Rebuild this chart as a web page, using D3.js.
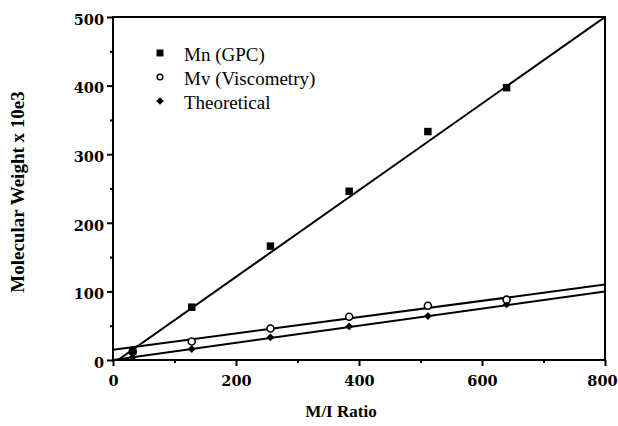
<!DOCTYPE html>
<html>
<head>
<meta charset="utf-8">
<script src="https://cdn.jsdelivr.net/npm/d3@7"></script>
<style>
  body { margin: 0; background: #fff; }
  .tick text { font-family: "DejaVu Serif", serif; font-weight: bold; font-size: 14.5px; fill: #000; }
  .tick line { stroke: #000; stroke-width: 2; }
</style>
</head>
<body>
<script>
// data
var ratio = [32, 128, 256, 384, 512, 640];          // M/I ratio
var mnGPC = [13, 77, 166, 246, 333, 397];           // Mn (GPC)
var mvVisc = [12, 27, 46, 63, 79, 88];              // Mv (Viscometry)
var theory = [4, 16, 33, 49, 64, 81];               // Theoretical
// fitted lines, end points
var mnFit = [[8, 0], [800, 500]];
var mvFit = [[0, 15], [800, 110]];
var theoryFit = [[0, 0], [800, 100]];
var xMajor = [0, 200, 400, 600, 800], xMinor = [100, 300, 500, 700];
var yMajor = [0, 100, 200, 300, 400, 500], yMinor = [50, 150, 250, 350, 450];
var legendNames = ["Mn (GPC)", "Mv (Viscometry)", "Theoretical"];

var w = 618, h = 426;
var svg = d3.select("body").append("svg")
    .attr("width", w)
    .attr("height", h);

var x = d3.scaleLinear().domain([0, 800]).range([113, 605]);
var y = d3.scaleLinear().domain([0, 500]).range([360, 17]);

// clip so lines stay in the frame
svg.append("clipPath").attr("id", "plot")
    .append("rect")
    .attr("x", x(0)).attr("y", y(500))
    .attr("width", x(800) - x(0)).attr("height", y(0) - y(500));

// axes: major + minor ticks
function drawAxis(gen, tr) {
    var g = svg.append("g").attr("transform", tr).call(gen);
    g.select(".domain").remove();
    return g;
}
drawAxis(d3.axisBottom(x).tickValues(xMajor).tickSize(6).tickPadding(10).tickFormat(d3.format("d")),
    "translate(0," + y(0) + ")")
    .selectAll("text").attr("dx", function(d){ return d === 800 ? "-3" : "0"; });
drawAxis(d3.axisBottom(x).tickValues(xMinor).tickSize(3).tickFormat(""),
    "translate(0," + y(0) + ")");
drawAxis(d3.axisLeft(y).tickValues(yMajor).tickSize(6).tickPadding(3).tickFormat(d3.format("d")),
    "translate(" + x(0) + ",0)")
    .selectAll("text").attr("dy", "0.5em");
drawAxis(d3.axisLeft(y).tickValues(yMinor).tickSize(3).tickFormat(""),
    "translate(" + x(0) + ",0)");

// frame
svg.append("rect")
    .attr("x", x(0)).attr("y", y(500))
    .attr("width", x(800) - x(0)).attr("height", y(0) - y(500))
    .style("fill", "none")
    .style("stroke", "#000")
    .style("stroke-width", 2);

// fit lines
var line = d3.line().x(function(d){ return x(d[0]); }).y(function(d){ return y(d[1]); });
svg.append("g").attr("clip-path", "url(#plot)")
    .selectAll(".fit")
    .data([mnFit, mvFit, theoryFit])
    .enter()
    .append("path")
    .attr("class", "fit")
    .attr("d", line)
    .style("fill", "none")
    .style("stroke", "#000")
    .style("stroke-width", 2);

// markers
var sq = d3.symbol().type(d3.symbolSquare).size(56);
var dia = d3.symbol().type(d3.symbolSquare).size(30); // rotated below

svg.selectAll(".theo")
    .data(ratio)
    .enter()
    .append("path")
    .attr("class", "theo")
    .attr("d", dia)
    .attr("transform", function(d, i){ return "translate(" + x(d) + "," + y(theory[i]) + ") rotate(45)"; })
    .style("fill", "#000");

svg.selectAll(".mv")
    .data(ratio)
    .enter()
    .append("circle")
    .attr("class", "mv")
    .attr("cx", function(d){ return x(d); })
    .attr("cy", function(d, i){ return y(mvVisc[i]); })
    .attr("r", 3.5)
    .style("fill", "#fff")
    .style("stroke", "#000")
    .style("stroke-width", 1.6);

svg.selectAll(".mn")
    .data(ratio)
    .enter()
    .append("path")
    .attr("class", "mn")
    .attr("d", sq)
    .attr("transform", function(d, i){ return "translate(" + x(d) + "," + y(mnGPC[i]) + ")"; })
    .style("fill", "#000");

// legend
var legend = svg.selectAll(".legend")
    .data(legendNames)
    .enter()
    .append("g")
    .attr("class", "legend")
    .attr("transform", function(d, i){ return "translate(160," + (61 + i * 24) + ")"; });
legend.append("text")
    .attr("x", 24)
    .style("font-family", "'Liberation Serif', serif")
    .style("font-size", "19px")
    .text(function(d){ return d; });
legend.filter(function(d, i){ return i === 0; }).append("path")
    .attr("d", d3.symbol().type(d3.symbolSquare).size(48))
    .attr("transform", "translate(0,-8)");
legend.filter(function(d, i){ return i === 1; }).append("circle")
    .attr("cy", -8).attr("r", 2.8)
    .style("fill", "#fff").style("stroke", "#000").style("stroke-width", 1.5);
legend.filter(function(d, i){ return i === 2; }).append("path")
    .attr("d", d3.symbol().type(d3.symbolSquare).size(28))
    .attr("transform", "translate(0,-8) rotate(45)");

// axis titles
svg.append("text")
    .attr("x", 341)
    .attr("y", 417)
    .attr("text-anchor", "middle")
    .style("font-family", "'Liberation Serif', serif")
    .style("font-weight", "bold")
    .style("font-size", "17px")
    .text("M/I Ratio");
svg.append("text")
    .attr("transform", "translate(24,192) rotate(-90)")
    .attr("text-anchor", "middle")
    .style("font-family", "'Liberation Serif', serif")
    .style("font-weight", "bold")
    .style("font-size", "19px")
    .text("Molecular Weight x 10e3");
</script>
</body>
</html>
